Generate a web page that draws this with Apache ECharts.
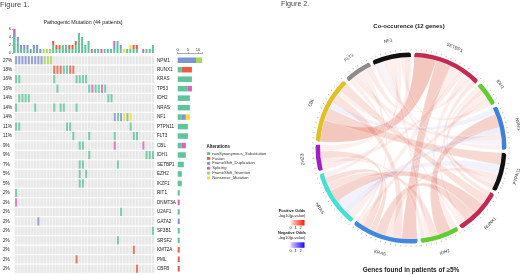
<!DOCTYPE html>
<html>
<head>
<meta charset="utf-8">
<script src="https://cdn.jsdelivr.net/npm/echarts@6/dist/echarts.min.js"></script>
<style>
  html, body { margin: 0; padding: 0; background: #fff; }
  #main { width: 520px; height: 275px; }
</style>
</head>
<body>
<div id="main"></div>
<script>
// ---------- Figure 1 : oncoprint ----------
var patients = [];
for (var p = 1; p <= 44; p++) patients.push('P' + p);

var genes = ['NPM1', 'RUNX1', 'KRAS', 'TP53', 'IDH2', 'NRAS', 'NF1', 'PTPN11', 'FLT3', 'CBL', 'IDH1',
  'SETBP1', 'EZH2', 'IKZF1', 'RIT1', 'DNMT3A', 'U2AF1', 'GATA2', 'SF3B1', 'SRSF2', 'KMT2A', 'PML', 'CBFB'];
var genePct = ['27%', '18%', '16%', '16%', '14%', '14%', '14%', '11%', '11%', '9%', '9%', '7%', '5%', '5%',
  '2%', '2%', '2%', '2%', '2%', '2%', '2%', '2%', '2%'];
var altTypes = ['nonSynonymous_Substitution', 'Fusion', 'FrameShift_Duplication', 'Splicing',
  'FrameShift_Insertion', 'Nonsense_Mutation'];
var altCodes = ['G', 'F', 'D', 'S', 'I', 'N'];
var yTicks = [0, 2, 4, 6];
var barTicks = [0, 5, 10];

// patient column + alteration code for every gene row
var geneAlterations = [
  '0D 1D 2D 3D 4D 5D 6D 7D 8D 9I 10I 11I', // NPM1
  '12F 13F 14F 15G 16G 17F 18F',            // RUNX1
  '0G 1G 12G 19G 20G 21G 22G',              // KRAS
  '13G 23G 24S 25G 26G 27S 28G',            // TP53
  '1G 2G 3G 4G 29G 30G',                    // IDH2
  '0G 6G 12G 14G 15G 19G',                  // NRAS
  '31D 32G 33D 34N 35G 36N',                // NF1
  '0G 1G 16G 17G 36G',                      // PTPN11
  '18G 23G 31G 37G 38G',                    // FLT3
  '20G 21G 31S 40S',                        // CBL
  '23G 41G 42G 43G',                        // IDH1
  '20G 21G 32G',                            // SETBP1
  '20G 22G',                                // EZH2
  '20G 21G',                                // IKZF1
  '0G',                                     // RIT1
  '0S',                                     // DNMT3A
  '33G',                                    // U2AF1
  '7D',                                     // GATA2
  '43G',                                    // SF3B1
  '32G',                                    // SRSF2
  '37F',                                    // KMT2A
  '19F',                                    // PML
  '38F'                                     // CBFB
];

// ---------- Figure 2 : co-occurrence chord ----------
var chordGenes = ['NF1', 'SETBP1', 'IDH1', 'NPM1', 'PTPN11', 'RUNX1', 'IDH2', 'KRAS', 'NRAS', 'EZH2', 'CBL', 'FLT3'];
var linkSource = ['SETBP1', 'SETBP1', 'SETBP1', 'SETBP1', 'SETBP1', 'SETBP1', 'SETBP1',
  'CBL', 'CBL', 'CBL', 'CBL', 'CBL',
  'NPM1', 'NPM1', 'NPM1', 'NPM1', 'NPM1',
  'PTPN11', 'PTPN11', 'PTPN11', 'PTPN11',
  'RUNX1', 'RUNX1', 'RUNX1', 'RUNX1',
  'IDH2', 'IDH2', 'IDH2',
  'KRAS', 'KRAS', 'KRAS', 'KRAS',
  'NRAS', 'EZH2', 'EZH2', 'IDH1', 'FLT3'];
var linkTarget = ['CBL', 'KRAS', 'NRAS', 'EZH2', 'IDH2', 'NF1', 'RUNX1',
  'PTPN11', 'NPM1', 'KRAS', 'FLT3', 'RUNX1',
  'IDH2', 'NRAS', 'FLT3', 'NF1', 'IDH1',
  'NRAS', 'KRAS', 'NF1', 'IDH1',
  'NRAS', 'KRAS', 'IDH1', 'FLT3',
  'NRAS', 'NF1', 'EZH2',
  'NRAS', 'EZH2', 'IDH1', 'FLT3',
  'NF1', 'NF1', 'FLT3', 'NF1', 'NF1'];
var linkValue = [14, 10, 5, 4, 4, 3, 3,
  8, 4, 6, 3, 6,
  9, 4, 4, 3, 3,
  6, 4, 3, 3,
  8, 7, 3, 2,
  5, 3, 3,
  4, 5, 3, 2,
  3, 2, 2, 3, 4];
// signed -log10(p): positive odds > 0, negative odds < 0
var linkScore = [2.0, 1.6, 0.3, 0.4, 0.3, 0.3, 0.6,
  1.2, -0.5, 0.8, 0.3, 0.9,
  1.5, -0.6, 0.4, -0.3, 0.3,
  -0.4, 0.5, 0.3, 0.7,
  1.4, 1.2, 0.3, 0.3,
  0.8, 0.3, 0.4,
  1.0, 1.0, 0.5, 0.3,
  0.3, 0.3, 0.3, 0.3, 0.5];

// ---------- styles ----------
var altColors = ['#5fc49a', '#ee5a43', '#7f93d2', '#dc62b8', '#a6d854', '#ffd92f'];
var chordGeneColors = ['#111111', '#c42a50', '#62cc30', '#3d82da', '#111111', '#c42a50', '#62cc30',
  '#4388e0', '#45dfd6', '#a31fc2', '#e0c025', '#8c8c8c'];
var FONT = 'Liberation Sans, Arial, sans-serif';

var cellsByType = altTypes.map(function () { return []; });
var topCounts = altTypes.map(function () { return patients.map(function () { return 0; }); });
var rightCounts = altTypes.map(function () { return genes.map(function () { return 0; }); });
geneAlterations.forEach(function (row, g) {
  row.split(' ').forEach(function (tok) {
    var col = parseInt(tok, 10);
    var t = altCodes.indexOf(tok.slice(-1));
    cellsByType[t].push([col, g]);
    topCounts[t][col]++;
    rightCounts[t][g]++;
  });
});
var background = [];
genes.forEach(function (g, gi) {
  patients.forEach(function (pp, pi) { background.push([pi, gi]); });
});

// ribbon colour from -log10(p): white->red for positive odds, white->blue for negative
function linkColor(s) {
  if (s >= 0) return 'rgba(226,112,92,' + (0.06 + 0.17 * s).toFixed(3) + ')';
  return 'rgba(125,125,228,' + (0.05 + 0.12 * -s).toFixed(3) + ')';
}

var series = [];
altTypes.forEach(function (name, t) {
  series.push({
    name: name, type: 'bar', xAxisIndex: 0, yAxisIndex: 0, stack: 'top',
    barWidth: 2, itemStyle: { color: altColors[t] }, data: topCounts[t]
  });
});
series.push({
  type: 'scatter', xAxisIndex: 1, yAxisIndex: 1, symbol: 'rect', symbolSize: [2.6, 8.2],
  itemStyle: { color: '#e1e1e1' }, data: background, silent: true
});
altTypes.forEach(function (name, t) {
  series.push({
    name: name, type: 'scatter', xAxisIndex: 1, yAxisIndex: 1, symbol: 'rect', symbolSize: [2, 8.2],
    itemStyle: { color: altColors[t] }, data: cellsByType[t]
  });
});
altTypes.forEach(function (name, t) {
  series.push({
    name: name, type: 'bar', xAxisIndex: 2, yAxisIndex: 3, stack: 'right',
    barWidth: 5.5, itemStyle: { color: altColors[t] }, data: rightCounts[t]
  });
});
var chordIndex = series.length;
series.push({
  type: 'chord',
  center: [411, 148],
  radius: [91, 95.5],
  startAngle: 114,
  clockwise: true,
  padAngle: 2,
  itemStyle: { borderWidth: 0 },
  label: { show: false },
  data: chordGenes.map(function (n, i) {
    return { name: n, itemStyle: { color: chordGeneColors[i] } };
  }),
  links: linkSource.map(function (s, i) {
    return { source: s, target: linkTarget[i], value: linkValue[i],
      lineStyle: { color: linkColor(linkScore[i]), opacity: 1, width: 0 } };
  })
});

function legendBox(y, label, c0, c1) {
  var f = '4px ' + FONT;
  return [
    { type: 'text', x: 292, y: y, style: { text: label, font: 'bold ' + f, fill: '#222', align: 'center', verticalAlign: 'middle' } },
    { type: 'text', x: 292, y: y + 4.5, style: { text: '-log10(p-value)', font: f, fill: '#222', align: 'center', verticalAlign: 'middle' } },
    { type: 'rect', shape: { x: 290.5, y: y + 9, width: 14, height: 5.5 },
      style: { fill: new echarts.graphic.LinearGradient(0, 0, 1, 0, [{ offset: 0, color: c0 }, { offset: 1, color: c1 }]) } },
    { type: 'text', x: 290.5, y: y + 17.3, style: { text: '0', font: f, fill: '#222', align: 'center', verticalAlign: 'middle' } },
    { type: 'text', x: 295.5, y: y + 17.3, style: { text: '1', font: f, fill: '#222', align: 'center', verticalAlign: 'middle' } },
    { type: 'text', x: 300.5, y: y + 17.3, style: { text: '2', font: f, fill: '#222', align: 'center', verticalAlign: 'middle' } }
  ];
}
var legendGraphics = legendBox(211, 'Positive Odds', '#fde6e1', '#ff1500')
  .concat(legendBox(233.3, 'Negative Odds', '#e2d4ff', '#1a00ff'));

var option = {
  animation: false,
  textStyle: { fontFamily: FONT },
  title: [
    { text: 'Figure 1.', left: 0, top: 1, padding: 0, textStyle: { fontSize: 7.5, fontWeight: 'normal', color: '#444' } },
    { text: 'Pathogenic Mutation (44 patients)', left: 83, top: 20, padding: 0, textAlign: 'center',
      textStyle: { fontSize: 5.3, fontWeight: 'normal', color: '#222' } },
    { text: 'Alterations', left: 206.5, top: 144.3, padding: 0, textStyle: { fontSize: 4.5, fontWeight: 'bold', color: '#222' } },
    { text: 'Figure 2.', left: 281, top: 0.5, padding: 0, textStyle: { fontSize: 7.2, fontWeight: 'normal', color: '#444' } },
    { text: 'Co-occurence (12 genes)', left: 409, top: 23, padding: 0, textAlign: 'center',
      textStyle: { fontSize: 6, fontWeight: 'bold', color: '#222' } },
    { text: 'Genes found in patients of \u22655%', left: 411, top: 266.5, padding: 0, textAlign: 'center',
      textStyle: { fontSize: 6.5, fontWeight: 'bold', color: '#222' } }
  ],
  legend: {
    data: altTypes, orient: 'vertical', left: 207, top: 151.5, padding: 0, icon: 'rect',
    itemWidth: 3.2, itemHeight: 2.8, itemGap: 0.9,
    textStyle: { fontSize: 4.1, color: '#333', lineHeight: 3, padding: [0, 0, 0, -3] }
  },
  grid: [
    { left: 13, top: 29, width: 141.5, height: 24 },
    { left: 13, top: 55.5, width: 141.5, height: 218 },
    { left: 177.7, top: 55.5, width: 24.4, height: 218 }
  ],
  xAxis: [
    { type: 'category', gridIndex: 0, data: patients, show: false },
    { type: 'category', gridIndex: 1, data: patients, show: false },
    { type: 'value', gridIndex: 2, min: 0, max: 12, interval: 5, position: 'top', offset: 2,
      axisLine: { show: true, lineStyle: { color: '#555', width: 0.5 } },
      axisTick: { show: true, length: 1.2, lineStyle: { width: 0.5 } },
      axisLabel: { fontSize: 4, color: '#333', margin: 1.5,
        formatter: function (v) { return barTicks.indexOf(v) >= 0 ? String(v) : ''; } },
      splitLine: { show: false } }
  ],
  yAxis: [
    { type: 'value', gridIndex: 0, min: 0, max: 6, interval: 2,
      axisLine: { show: true, lineStyle: { color: '#555', width: 0.5 } },
      axisTick: { show: true, length: 1.2, lineStyle: { width: 0.5 } },
      axisLabel: { fontSize: 4, color: '#333', margin: 2,
        formatter: function (v) { return yTicks.indexOf(v) >= 0 ? String(v) : ''; } },
      splitLine: { show: false } },
    { type: 'category', gridIndex: 1, data: genes, inverse: true, position: 'right',
      axisLine: { show: false }, axisTick: { show: false },
      axisLabel: { interval: 0, align: 'left', margin: 2.5, fontSize: 4.6, color: '#222' } },
    { type: 'category', gridIndex: 1, data: genes, inverse: true, position: 'left',
      axisLine: { show: false }, axisTick: { show: false },
      axisLabel: { interval: 0, align: 'left', margin: 11.5, fontSize: 4.6, color: '#222',
        formatter: function (v, i) { return genePct[i]; } } },
    { type: 'category', gridIndex: 2, data: genes, inverse: true, show: false }
  ],
  polar: { center: [411, 148], radius: 97.5 },
  angleAxis: { polarIndex: 0, type: 'value', min: 0, max: 360, interval: 3, startAngle: 90, clockwise: true,
    axisLine: { show: false }, splitLine: { show: false }, axisLabel: { show: false },
    axisTick: { show: true, length: 1.3, lineStyle: { color: '#555', width: 0.4 } } },
  radiusAxis: { polarIndex: 0, show: false },
  graphic: legendGraphics,
  series: series
};

var chart = echarts.init(document.getElementById('main'));
chart.setOption(option);

// gene names around the ring, turned along the circle at each arc's middle
var chordData = chart.getModel().getSeriesByIndex(chordIndex).getData();
var ringLabels = [];
chordData.each(function (i) {
  var el = chordData.getItemGraphicEl(i);
  if (!el || !el.shape) return;
  var s = el.shape;
  var a = Math.atan2(Math.sin(s.startAngle) + Math.sin(s.endAngle), Math.cos(s.startAngle) + Math.cos(s.endAngle));
  var r = s.r + 14;
  var rot = -(a + Math.PI / 2);
  if (Math.sin(a) > 0.05) rot += Math.PI;
  ringLabels.push({
    type: 'text', x: s.cx + r * Math.cos(a), y: s.cy + r * Math.sin(a), rotation: rot,
    style: { text: chordData.getName(i), font: '4.5px ' + FONT, fill: '#333', align: 'center', verticalAlign: 'middle' }
  });
});
chart.setOption({ graphic: legendGraphics.concat(ringLabels) });

// chord ribbons only take their stroke from a custom lineStyle colour; use it as the fill too
chart.getZr().storage.getDisplayList().forEach(function (el) {
  if (el.style && el.style.fill === '#000' && typeof el.style.stroke === 'string' && el.style.stroke.indexOf('rgba') === 0) {
    el.setStyle({ fill: el.style.stroke, stroke: 'rgba(255,255,255,0.7)', lineWidth: 0.35 });
  }
});
chart.getZr().flush();
</script>
</body>
</html>
